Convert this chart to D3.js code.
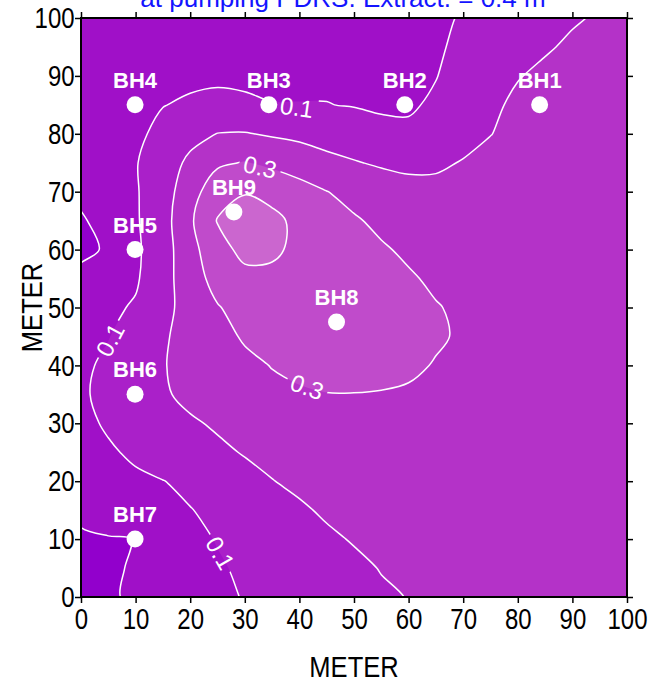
<!DOCTYPE html>
<html>
<head>
<meta charset="utf-8">
<script src="https://cdn.jsdelivr.net/npm/d3@7"></script>
<style>
  body { margin: 0; background: #fff; }
  svg { display: block; font-family: Arial, "Liberation Sans", sans-serif; }
</style>
</head>
<body>
<svg id="chart" width="658" height="684"></svg>
<script>
// grid nodes (metres), rows run from the top of the map (y = 100) down to y = 0
const gridX = [0, 5, 10, 15, 20, 25, 30, 35, 40, 45, 50, 55, 60, 65, 70, 75, 80, 85, 90, 95, 100];
const gridY = [100, 95, 90, 85, 80, 75, 70, 65, 60, 55, 50, 45, 40, 35, 30, 25, 20, 15, 10, 5, 0];

// values, one row per gridY entry
const conc = [
  [0.06, 0.06, 0.065, 0.07, 0.075, 0.078, 0.08, 0.08, 0.08, 0.08, 0.08, 0.08, 0.085, 0.093, 0.103, 0.13, 0.15, 0.17, 0.19, 0.21, 0.23],
  [0.055, 0.06, 0.065, 0.07, 0.075, 0.078, 0.08, 0.08, 0.08, 0.08, 0.08, 0.08, 0.085, 0.094, 0.11, 0.14, 0.16, 0.19, 0.215, 0.23, 0.24],
  [0.05, 0.055, 0.065, 0.075, 0.085, 0.09, 0.088, 0.085, 0.085, 0.085, 0.083, 0.08, 0.085, 0.098, 0.125, 0.16, 0.195, 0.22, 0.235, 0.245, 0.25],
  [0.05, 0.06, 0.075, 0.098, 0.11, 0.115, 0.11, 0.102, 0.102, 0.102, 0.095, 0.088, 0.092, 0.11, 0.14, 0.18, 0.22, 0.235, 0.245, 0.25, 0.255],
  [0.05, 0.065, 0.085, 0.12, 0.17, 0.202, 0.205, 0.19, 0.18, 0.17, 0.155, 0.125, 0.112, 0.14, 0.17, 0.198, 0.225, 0.24, 0.25, 0.255, 0.26],
  [0.045, 0.07, 0.095, 0.15, 0.22, 0.285, 0.305, 0.28, 0.25, 0.22, 0.205, 0.19, 0.18, 0.185, 0.205, 0.225, 0.24, 0.25, 0.255, 0.26, 0.265],
  [0.03, 0.07, 0.092, 0.155, 0.26, 0.36, 0.395, 0.375, 0.34, 0.302, 0.27, 0.245, 0.23, 0.225, 0.23, 0.24, 0.25, 0.255, 0.26, 0.265, 0.27],
  [-0.015, 0.05, 0.09, 0.16, 0.285, 0.405, 0.44, 0.42, 0.38, 0.35, 0.31, 0.28, 0.26, 0.25, 0.25, 0.255, 0.26, 0.26, 0.265, 0.27, 0.27],
  [-0.03, 0.015, 0.085, 0.155, 0.27, 0.36, 0.43, 0.415, 0.38, 0.36, 0.34, 0.31, 0.285, 0.27, 0.265, 0.265, 0.265, 0.265, 0.27, 0.27, 0.275],
  [0.035, 0.065, 0.09, 0.16, 0.26, 0.33, 0.37, 0.38, 0.375, 0.37, 0.355, 0.335, 0.31, 0.285, 0.275, 0.27, 0.27, 0.27, 0.27, 0.275, 0.275],
  [0.06, 0.085, 0.108, 0.17, 0.24, 0.295, 0.33, 0.35, 0.355, 0.355, 0.35, 0.34, 0.325, 0.305, 0.285, 0.275, 0.27, 0.27, 0.27, 0.27, 0.275],
  [0.075, 0.097, 0.14, 0.19, 0.23, 0.27, 0.31, 0.335, 0.345, 0.35, 0.35, 0.345, 0.33, 0.31, 0.29, 0.28, 0.275, 0.27, 0.27, 0.27, 0.27],
  [0.085, 0.115, 0.16, 0.195, 0.23, 0.255, 0.28, 0.303, 0.32, 0.33, 0.335, 0.33, 0.315, 0.295, 0.28, 0.275, 0.27, 0.27, 0.27, 0.27, 0.27],
  [0.09, 0.12, 0.155, 0.19, 0.22, 0.245, 0.265, 0.28, 0.29, 0.298, 0.298, 0.295, 0.29, 0.28, 0.275, 0.27, 0.27, 0.265, 0.265, 0.265, 0.265],
  [0.07, 0.115, 0.145, 0.17, 0.19, 0.21, 0.225, 0.24, 0.25, 0.26, 0.265, 0.265, 0.265, 0.265, 0.265, 0.265, 0.265, 0.26, 0.26, 0.26, 0.26],
  [0.05, 0.085, 0.12, 0.145, 0.165, 0.185, 0.205, 0.22, 0.235, 0.245, 0.25, 0.255, 0.255, 0.255, 0.255, 0.255, 0.255, 0.255, 0.255, 0.255, 0.255],
  [0.035, 0.06, 0.08, 0.098, 0.12, 0.15, 0.175, 0.198, 0.215, 0.23, 0.24, 0.245, 0.25, 0.25, 0.25, 0.25, 0.25, 0.25, 0.25, 0.25, 0.25],
  [0.015, 0.04, 0.06, 0.08, 0.097, 0.12, 0.145, 0.165, 0.19, 0.21, 0.225, 0.235, 0.24, 0.245, 0.245, 0.245, 0.245, 0.245, 0.245, 0.245, 0.245],
  [-0.01, -0.005, 0.001, 0.04, 0.075, 0.105, 0.13, 0.15, 0.17, 0.188, 0.205, 0.22, 0.23, 0.235, 0.24, 0.24, 0.24, 0.24, 0.24, 0.24, 0.24],
  [-0.025, -0.015, 0.01, 0.035, 0.065, 0.09, 0.115, 0.135, 0.155, 0.17, 0.185, 0.203, 0.215, 0.225, 0.23, 0.235, 0.235, 0.235, 0.235, 0.235, 0.235],
  [-0.035, -0.012, 0.015, 0.04, 0.06, 0.08, 0.105, 0.125, 0.145, 0.16, 0.175, 0.19, 0.202, 0.215, 0.225, 0.23, 0.23, 0.23, 0.23, 0.23, 0.23]
];

const levels = [0, 0.1, 0.2, 0.3, 0.4];
const bandColors = ['#9200cc', '#a010c8', '#aa20c9', '#b432c8', '#c04bcb', '#cb66cf'];

const wells = ['BH1', 'BH2', 'BH3', 'BH4', 'BH5', 'BH6', 'BH7', 'BH8', 'BH9'];
const wellX = [84, 59.3, 34.4, 9.9, 9.9, 9.9, 9.9, 46.8, 28];
const wellY = [85, 85, 85, 85, 60, 35, 10, 47.5, 66.5];

const labelText = ['0.1', '0.3', '0.3', '0.1', '0.1'];
const labelX = [39.5, 32.8, 41.4, 5.3, 25.5];
const labelY = [84.6, 74.3, 36.3, 44.4, 7.6];
const labelAngle = [8, 12, 20, -62, 60];

const xTicks = [0, 10, 20, 30, 40, 50, 60, 70, 80, 90, 100];
const yTicks = [0, 10, 20, 30, 40, 50, 60, 70, 80, 90, 100];

const titleText = 'at pumping PDRS. Extract. = 0.4 m';

const svg = d3.select('#chart');
const plotL = 81, plotR = 627, plotT = 18, plotB = 597;

const x = d3.scaleLinear().domain([0, 100]).range([plotL, plotR]);
const y = d3.scaleLinear().domain([0, 100]).range([plotB, plotT]);

// contour grid coords -> metres (d3.contours puts node i at i + 0.5)
const gx = d3.scaleLinear().domain([0.5, gridX.length - 0.5]).range([gridX[0], gridX[gridX.length - 1]]);
const gy = d3.scaleLinear().domain([0.5, gridY.length - 0.5]).range([gridY[0], gridY[gridY.length - 1]]);

const values = conc.flat();
const ringLine = d3.line()
  .x(p => x(gx(p[0])))
  .y(p => y(gy(p[1])))
  .curve(d3.curveCatmullRomClosed.alpha(0.5));

function shapePath(geom) {
  return geom.coordinates
    .map(poly => poly.map(r => ringLine(r.slice(0, -1))).join(''))
    .join('');
}

const defs = svg.append('defs');
defs.append('clipPath').attr('id', 'plotclip')
  .append('rect')
  .attr('x', plotL).attr('y', plotT)
  .attr('width', plotR - plotL).attr('height', plotB - plotT);

const bands = d3.contours()
  .size([gridX.length, gridY.length])
  .thresholds([-1].concat(levels))(values);

const plot = svg.append('g').attr('clip-path', 'url(#plotclip)');

plot.append('g')
  .selectAll('path')
  .data(bands)
  .join('path')
  .attr('d', shapePath)
  .attr('fill', (d, i) => bandColors[i])
  .attr('fill-rule', 'evenodd');

// gaps in the lines behind the contour labels
const labels = labelText.map((t, i) => ({ t, x: labelX[i], y: labelY[i], a: labelAngle[i] }));

const mask = defs.append('mask').attr('id', 'gaps')
  .attr('maskUnits', 'userSpaceOnUse')
  .attr('x', 0).attr('y', 0).attr('width', 658).attr('height', 684);
mask.append('rect').attr('x', 0).attr('y', 0).attr('width', 658).attr('height', 684).attr('fill', 'white');
mask.selectAll('rect.gap')
  .data(labels)
  .join('rect')
  .attr('class', 'gap')
  .attr('x', -21).attr('y', -12)
  .attr('width', 42).attr('height', 24)
  .attr('transform', d => `translate(${x(d.x)},${y(d.y)}) rotate(${d.a})`)
  .attr('fill', 'black');

const lines = d3.contours()
  .size([gridX.length, gridY.length])
  .thresholds(levels)(values);

plot.append('g')
  .attr('mask', 'url(#gaps)')
  .selectAll('path')
  .data(lines)
  .join('path')
  .attr('d', shapePath)
  .attr('fill', 'none')
  .attr('stroke', '#fff')
  .attr('stroke-width', 1.5);

plot.append('g')
  .selectAll('text')
  .data(labels)
  .join('text')
  .attr('transform', d => `translate(${x(d.x)},${y(d.y)}) rotate(${d.a})`)
  .attr('text-anchor', 'middle')
  .attr('dy', '0.36em')
  .attr('fill', '#fff')
  .style('font-size', '24px')
  .text(d => d.t);

// boreholes
const wellG = svg.append('g')
  .selectAll('g')
  .data(wells)
  .join('g')
  .attr('transform', (d, i) => `translate(${x(wellX[i])},${y(wellY[i])})`);

wellG.append('circle')
  .attr('r', 8.5)
  .attr('fill', '#fff');

wellG.append('text')
  .attr('y', -17)
  .attr('text-anchor', 'middle')
  .attr('fill', '#fff')
  .style('font-size', '22px')
  .style('font-weight', 'bold')
  .text(d => d);

// axes, ticks out on all four sides
function styleAxis(g) {
  g.select('.domain').remove();
  g.selectAll('.tick line').attr('stroke', '#000').attr('stroke-width', 1.5);
  g.selectAll('.tick text').attr('fill', '#000').style('font-size', '30px');
}

svg.append('g')
  .attr('transform', `translate(0,${plotB})`)
  .call(d3.axisBottom(x).tickValues(xTicks).tickSize(6).tickPadding(5))
  .call(styleAxis)
  .call(g => g.selectAll('.tick text').attr('transform', 'scale(0.8,1)'));

svg.append('g')
  .attr('transform', `translate(${plotL},0)`)
  .call(d3.axisLeft(y).tickValues(yTicks).tickSize(6).tickPadding(2))
  .call(styleAxis)
  .call(g => g.selectAll('.tick text').attr('transform', 'scale(0.8,1)'));

svg.append('g')
  .attr('transform', `translate(0,${plotT})`)
  .call(d3.axisTop(x).tickValues(xTicks).tickSize(6).tickFormat(''))
  .call(styleAxis);

svg.append('g')
  .attr('transform', `translate(${plotR},0)`)
  .call(d3.axisRight(y).tickValues(yTicks).tickSize(6).tickFormat(''))
  .call(styleAxis);

svg.append('rect')
  .attr('x', plotL).attr('y', plotT)
  .attr('width', plotR - plotL).attr('height', plotB - plotT)
  .attr('fill', 'none')
  .attr('stroke', '#000')
  .attr('stroke-width', 2);

svg.append('text')
  .attr('transform', `translate(${(plotL + plotR) / 2},677) scale(0.88,1)`)
  .attr('text-anchor', 'middle')
  .style('font-size', '29px')
  .text('METER');

svg.append('text')
  .attr('transform', `translate(42,${(plotT + plotB) / 2}) rotate(-90) scale(0.88,1)`)
  .attr('text-anchor', 'middle')
  .style('font-size', '29px')
  .text('METER');

// the title sits mostly above the page edge, as in the source picture
svg.append('text')
  .attr('x', 343)
  .attr('y', 7)
  .attr('text-anchor', 'middle')
  .attr('fill', '#1414ff')
  .style('font-size', '26px')
  .text(titleText);
</script>
</body>
</html>
